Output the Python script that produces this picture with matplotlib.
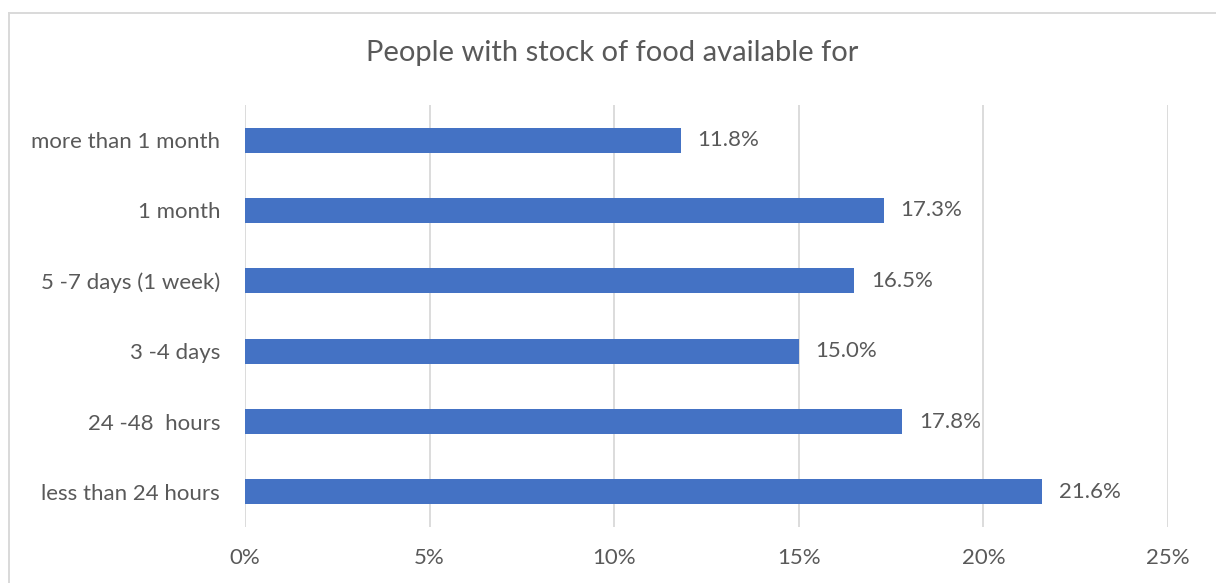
import matplotlib
matplotlib.use("Agg")
import matplotlib.pyplot as plt
from matplotlib.lines import Line2D
from matplotlib.ticker import FuncFormatter, MultipleLocator

# Share of people by how long their food stock will last
categories = ["less than 24 hours", "24 -48  hours", "3 -4 days",
              "5 -7 days (1 week)", "1 month", "more than 1 month"]
shares = [21.6, 17.8, 15.0, 16.5, 17.3, 11.8]
title = "People with stock of food available for"

W, H, DPI = 1216, 583, 100
BAR = "#4472C4"
TEXT = "#595959"
GRID = "#D9D9D9"

plt.rcParams["font.family"] = ["Lato", "DejaVu Sans"]

fig = plt.figure(figsize=(W / DPI, H / DPI), dpi=DPI)
fig.patch.set_facecolor("white")

# chart-area frame (top and left edges)
fx, fy = 8.5 / W, 1 - 12.5 / H
fig.add_artist(Line2D([fx, 1.0], [fy, fy], transform=fig.transFigure,
                      color=GRID, linewidth=1.4))
fig.add_artist(Line2D([fx, fx], [0.0, fy], transform=fig.transFigure,
                      color=GRID, linewidth=1.4))

left, right = 245 / W, 1168 / W
top, bottom = 1 - 105 / H, 1 - 527 / H
ax = fig.add_axes([left, bottom, right - left, top - bottom])

y = range(len(categories))
ax.barh(y, shares, height=0.36, color=BAR, zorder=3)
for yi, v in zip(y, shares):
    ax.annotate(f"{v:.1f}%", (v, yi), xytext=(12, 0), textcoords="offset points",
                va="center", ha="left", fontsize=16, color=TEXT)

ax.set_xlim(0, 25)
ax.set_ylim(-0.5, len(categories) - 0.5)
ax.xaxis.set_major_locator(MultipleLocator(5))
ax.xaxis.set_major_formatter(FuncFormatter(lambda v, p: f"{v:.0f}%"))
ax.set_yticks(list(y))
ax.set_yticklabels(categories)
ax.grid(axis="x", color=GRID, linewidth=1.3, zorder=0)
ax.tick_params(axis="both", length=0, labelsize=16, labelcolor=TEXT)
ax.tick_params(axis="x", pad=15)
ax.tick_params(axis="y", pad=18)
for s in ax.spines.values():
    s.set_visible(False)

fig.text(612 / W, 1 - 53 / H, title, ha="center", va="center",
         fontsize=21, color=TEXT)

fig.savefig("out.png", dpi=DPI, facecolor="white")
